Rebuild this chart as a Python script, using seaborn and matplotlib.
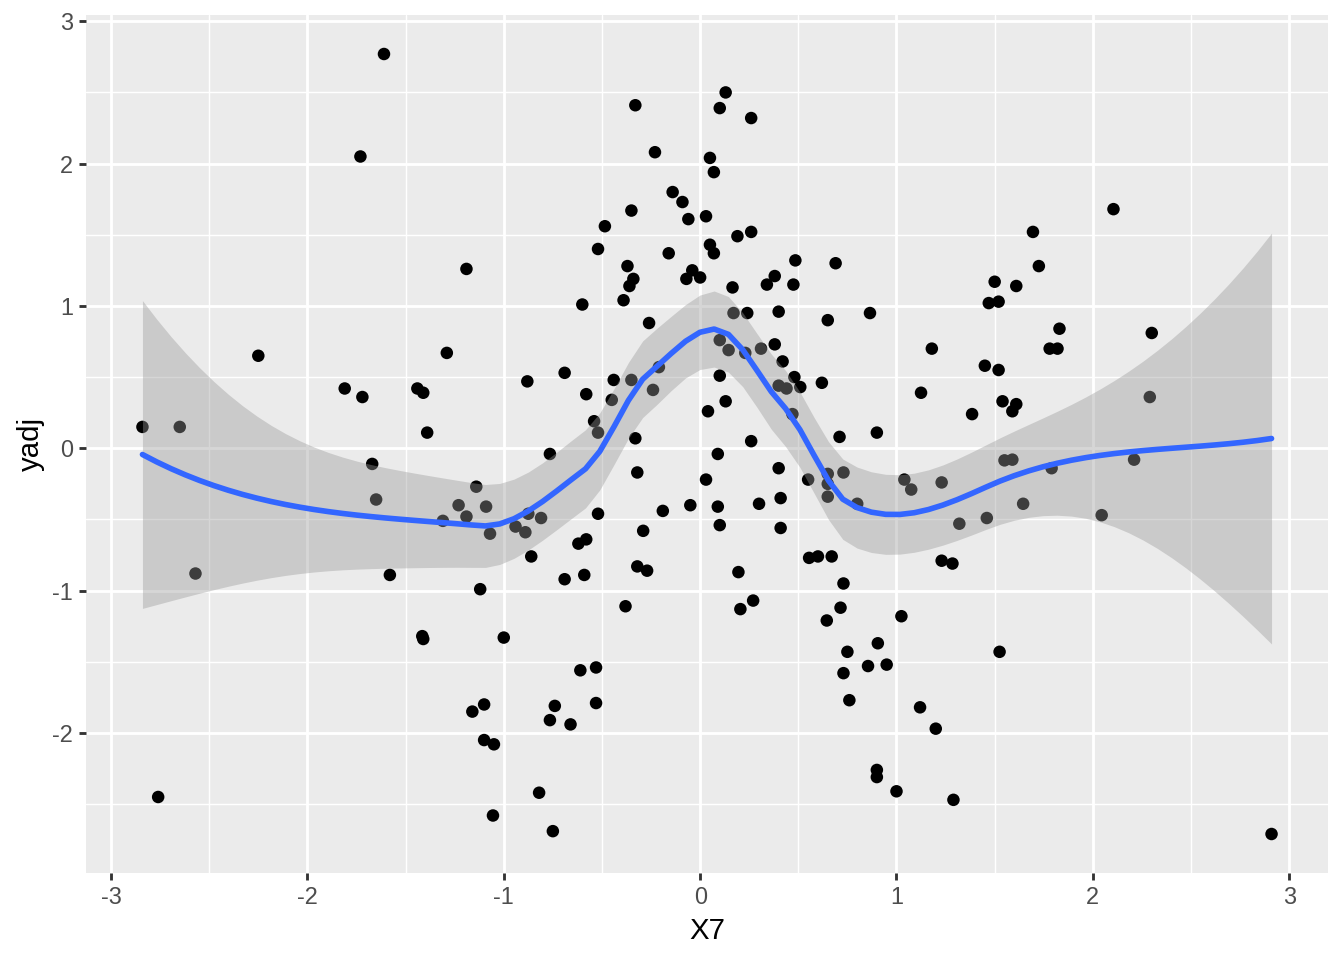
import numpy as np
import pandas as pd
import matplotlib
matplotlib.use("Agg")
import matplotlib.pyplot as plt
import seaborn as sns

# ---- data ----
x_left = [-2.84, -2.65, -2.57, -2.76, -2.25, -1.61, -1.73, -1.81, -1.72, -1.67, -1.65, -1.58,
          -1.44, -1.41, -1.39, -1.415, -1.41, -1.29, -1.19, -1.31, -1.23, -1.19, -1.14, -1.09,
          -1.07, -1.12, -1.16, -1.10, -1.10, -1.05, -1.055, -1.00]
y_left = [0.15, 0.15, -0.88, -2.45, 0.65, 2.77, 2.05, 0.42, 0.36, -0.11, -0.36, -0.89,
          0.42, 0.39, 0.11, -1.32, -1.34, 0.67, 1.26, -0.51, -0.40, -0.48, -0.27, -0.41,
          -0.60, -0.99, -1.85, -1.80, -2.05, -2.08, -2.58, -1.33]

x_upper_mid = [-0.33, 0.13, 0.10, 0.26, -0.23, 0.05, 0.07, -0.14, -0.09, -0.35, -0.06, 0.03,
               -0.485, 0.26, 0.19, -0.52, -0.16, 0.05, 0.07, -0.37, 0.485, 0.69, -0.04, -0.07,
               0.00, -0.34, -0.36, 0.165, 0.38, 0.34, 0.475, -0.60, -0.39, 0.17, 0.24, 0.40,
               0.65, 0.865, -0.26, 0.10, 0.145, 0.23, 0.31, 0.38, 0.42, -0.88, -0.69, -0.44,
               -0.35, -0.21, -0.24, 0.10, 0.48, 0.40, 0.44, 0.51, 0.62, -0.58, -0.45, 0.13,
               0.04, 0.47, -0.54, -0.52, -0.33, 0.26, 0.71, 0.90]
y_upper_mid = [2.41, 2.50, 2.39, 2.32, 2.08, 2.04, 1.94, 1.80, 1.73, 1.67, 1.61, 1.63,
               1.56, 1.52, 1.49, 1.40, 1.37, 1.43, 1.37, 1.28, 1.32, 1.30, 1.25, 1.19,
               1.20, 1.19, 1.14, 1.13, 1.21, 1.15, 1.15, 1.01, 1.04, 0.95, 0.95, 0.96,
               0.90, 0.95, 0.88, 0.76, 0.69, 0.67, 0.70, 0.73, 0.61, 0.47, 0.53, 0.48,
               0.48, 0.57, 0.41, 0.51, 0.50, 0.44, 0.42, 0.43, 0.46, 0.38, 0.34, 0.33,
               0.26, 0.24, 0.19, 0.11, 0.07, 0.05, 0.08, 0.11]

x_lower_mid = [-0.765, -0.32, 0.09, 0.03, 0.40, 0.41, 0.55, 0.65, 0.65, 0.65, 0.73, 0.80,
               1.04, 1.075, -0.05, 0.09, 0.30, -0.52, -0.19, 0.10, 0.41, -0.875, -0.81, -0.94,
               -0.89, -0.86, -0.62, -0.58, -0.29, -0.69, -0.59, -0.32, -0.27, -0.38, 0.195, 0.205,
               0.27, 0.555, 0.60, 0.67, 0.73, 0.715, 0.645, 1.025, 0.905, 0.75, 0.855, 0.95,
               0.73, 0.76, 1.12, 0.90, 0.90, 1.00, -0.61, -0.53, -0.53, -0.74, -0.765, -0.66,
               -0.82, -0.75]
y_lower_mid = [-0.04, -0.17, -0.04, -0.22, -0.14, -0.35, -0.22, -0.18, -0.25, -0.34, -0.17, -0.39,
               -0.22, -0.29, -0.40, -0.41, -0.39, -0.46, -0.44, -0.54, -0.56, -0.46, -0.49, -0.55,
               -0.59, -0.76, -0.67, -0.64, -0.58, -0.92, -0.89, -0.83, -0.86, -1.11, -0.87, -1.13,
               -1.07, -0.77, -0.76, -0.76, -0.95, -1.12, -1.21, -1.18, -1.37, -1.43, -1.53, -1.52,
               -1.58, -1.77, -1.82, -2.26, -2.31, -2.41, -1.56, -1.54, -1.79, -1.81, -1.91, -1.94,
               -2.42, -2.69]

x_right = [2.105, 1.695, 1.725, 1.50, 1.61, 1.47, 1.52, 1.83, 1.78, 1.82, 2.30, 1.18,
           1.45, 1.52, 1.125, 1.385, 1.54, 1.61, 1.59, 2.29,
           1.23, 1.32, 1.46, 1.55, 1.59, 1.79, 1.645, 2.045, 2.21, 1.23, 1.285, 1.525,
           1.20, 1.29, 2.91]
y_right = [1.68, 1.52, 1.28, 1.17, 1.14, 1.02, 1.03, 0.84, 0.70, 0.70, 0.81, 0.70,
           0.58, 0.55, 0.39, 0.24, 0.33, 0.31, 0.26, 0.36,
           -0.24, -0.53, -0.49, -0.085, -0.08, -0.14, -0.39, -0.47, -0.08, -0.79, -0.81, -1.43,
           -1.97, -2.47, -2.71]

x_ticks = [-3, -2, -1, 0, 1, 2, 3]
y_ticks = [-2, -1, 0, 1, 2, 3]
x_label = "X7"
y_label = "yadj"

df = pd.DataFrame({
    "X7": np.array(x_left + x_upper_mid + x_lower_mid + x_right, dtype=float),
    "yadj": np.array(y_left + y_upper_mid + y_lower_mid + y_right, dtype=float),
})


# ---- loess like R's default (span .75, degree 2, kd-tree + Hermite interpolation) ----
def loess_band(x, y, xg, span=0.75, degree=2, cell=0.2):
    n = len(x)
    q = int(np.floor(n * span))
    fc = int(np.floor(n * span * cell))

    def local_rows(x0):
        d = np.abs(x - x0)
        h = np.sort(d)[q - 1] * 1.0000001
        u = np.clip(d / h, 0, 1)
        w = (1 - u ** 3) ** 3
        X = np.vander(x - x0, degree + 1, increasing=True)
        A = X.T @ (w[:, None] * X)
        B = np.linalg.solve(A, (X * w[:, None]).T)
        return B[0], B[1]

    # kd-tree vertices (1-D)
    xs = np.sort(x)
    mu = 0.005 * (xs[-1] - xs[0])
    verts = [xs[0] - mu, xs[-1] + mu]

    def rec(l, u, vlo, vhi):  # 1-based inclusive indices
        if u - l + 1 <= fc:
            return
        m = (l + u) // 2
        off = 0
        while l <= m + off < u:
            if xs[m + off - 1] == xs[m + off]:
                off = -off
                if off >= 0:
                    off += 1
            else:
                m = m + off
                break
        t = xs[m - 1]
        if t == vlo or t == vhi:
            return
        verts.append(t)
        rec(l, m, vlo, t)
        rec(m + 1, u, t, vhi)

    rec(1, n, verts[0], verts[1])
    V = np.sort(np.array(verts))
    vrows = [local_rows(v) for v in V]

    def interp_row(x0):
        k = int(np.clip(np.searchsorted(V, x0, side="right") - 1, 0, len(V) - 2))
        v0, v1 = V[k], V[k + 1]
        hh = v1 - v0
        t = (x0 - v0) / hh
        h00 = 2 * t ** 3 - 3 * t ** 2 + 1
        h10 = t ** 3 - 2 * t ** 2 + t
        h01 = -2 * t ** 3 + 3 * t ** 2
        h11 = t ** 3 - t ** 2
        f0, s0 = vrows[k]
        f1, s1 = vrows[k + 1]
        return h00 * f0 + h10 * hh * s0 + h01 * f1 + h11 * hh * s1

    L = np.array([interp_row(v) for v in x])
    res = y - L @ y
    M = (np.eye(n) - L).T @ (np.eye(n) - L)
    d1 = np.trace(M)
    d2 = np.trace(M @ M)
    sigma = np.sqrt(np.sum(res ** 2) / d1)
    dof = d1 ** 2 / d2
    z = 1.959964
    tq = z + (z ** 3 + z) / (4 * dof)
    Lg = np.array([interp_row(v) for v in xg])
    fit = Lg @ y
    se = sigma * np.sqrt(np.sum(Lg ** 2, axis=1))
    return fit, fit - tq * se, fit + tq * se


xv = df["X7"].to_numpy()
yv = df["yadj"].to_numpy()
xg = np.linspace(xv.min(), xv.max(), 80)
fit, lo, hi = loess_band(xv, yv, xg)

# ---- figure ----
sns.set_theme(style="darkgrid")
plt.rcParams["font.family"] = ["Liberation Sans", "DejaVu Sans"]
plt.rcParams["axes.unicode_minus"] = False

fig = plt.figure(figsize=(7, 5), dpi=192)
ax = fig.add_axes([86 / 1344, 1 - 873 / 960, (1328 - 86) / 1344, (873 - 15) / 960])
ax.set_facecolor("#EBEBEB")

sns.scatterplot(data=df, x="X7", y="yadj", ax=ax, color="black", s=22,
                linewidth=0, edgecolor="none", zorder=2)
ax.fill_between(xg, lo, hi, color="#999999", alpha=0.4, linewidth=0, zorder=3)
sns.lineplot(x=xg, y=fit, ax=ax, color="#3366FF", linewidth=2.1, zorder=4, sort=False)

# limits with ggplot-like 5% expansion
allx = np.concatenate([xv, xg])
ally = np.concatenate([yv, lo, hi])
rx = allx.max() - allx.min()
ry = ally.max() - ally.min()
ax.set_xlim(allx.min() - 0.05 * rx, allx.max() + 0.05 * rx)
ax.set_ylim(ally.min() - 0.05 * ry, ally.max() + 0.05 * ry)

ax.set_xticks(x_ticks)
ax.set_yticks(y_ticks)
ax.set_xticklabels([str(t) for t in x_ticks])
ax.set_yticklabels([str(t) for t in y_ticks])
ax.set_xticks(np.arange(-2.5, 3.0, 1.0), minor=True)
ax.set_yticks(np.arange(-2.5, 3.0, 1.0), minor=True)

ax.grid(which="major", color="white", linewidth=1.07)
ax.grid(which="minor", color="white", linewidth=0.53)
ax.set_axisbelow(True)
for s in ax.spines.values():
    s.set_visible(False)

ax.tick_params(axis="both", which="major", length=2.75, width=1.07, color="#333333",
               labelsize=8.8, labelcolor="#4D4D4D", pad=2.2, bottom=True, left=True)
ax.tick_params(axis="both", which="minor", length=0)

ax.set_xlabel(x_label, fontsize=11, color="black", labelpad=2.75)
ax.set_ylabel(y_label, fontsize=11, color="black", labelpad=2.75)

fig.savefig("out.png", dpi=192, facecolor="white")
